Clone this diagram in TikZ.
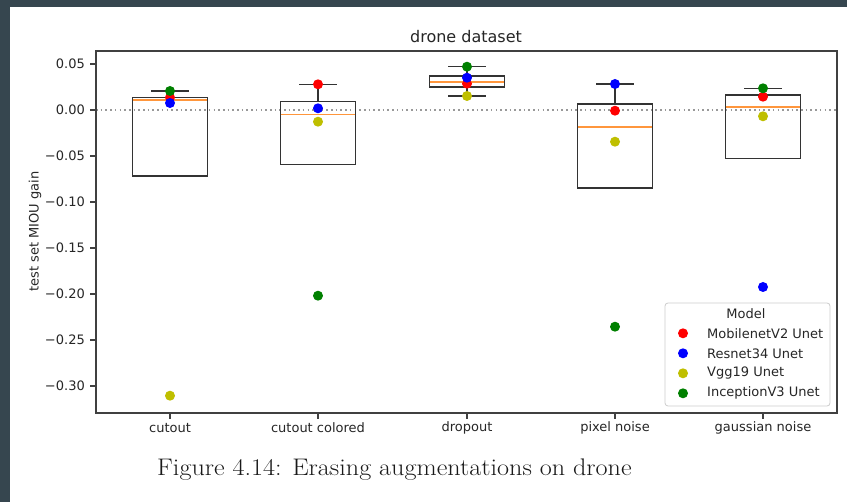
\documentclass[tikz,border=0pt]{standalone}
\usepackage{fontspec}
\newfontfamily\plotfont{DejaVu Sans}
\definecolor{frame}{RGB}{54,70,79}
\definecolor{medorange}{RGB}{255,150,60}
\definecolor{mred}{RGB}{255,0,0}
\definecolor{mblue}{RGB}{0,0,255}
\definecolor{myel}{RGB}{191,191,0}
\definecolor{mgreen}{RGB}{0,128,0}
\tikzset{
  x=1pt,y=-1pt,
  spine/.style={draw=black!75,line width=1.2pt},
  boxline/.style={draw=black!80,line width=1.5pt},
  medline/.style={draw=medorange,line width=1.4pt},
  tickl/.style={font=\plotfont\fontsize{13}{15}\selectfont,text=black!85,inner sep=0pt},
  dot/.style={circle,inner sep=0pt,minimum size=10pt,fill=#1},
  zeroline/.style={draw=black!40,line width=1.6pt,dash pattern=on 1.6pt off 3.1pt},
}
\begin{document}
\begin{tikzpicture}
\useasboundingbox (0,0) rectangle (847,502);
\fill[white] (0,0) rectangle (847,502);
\fill[frame] (0,0) rectangle (847,7.5);
\fill[frame] (0,0) rectangle (10,502);
% zero line
\coordinate (zl) at (96,110);
\coordinate (zr) at (837,110);
\draw[zeroline] (zl) -- (zr);
% boxes: cx, top, bottom, median, upper cap
\foreach \cx/\tp/\bt/\md/\uc [count=\i] in {170/97.7/176/100/91, 318/101.7/164.3/114.3/84.3, 467/76/87/82/66.7, 615/104/188/127/84, 763/95/158.3/107/88.3}{
  \draw[boxline] (\cx-37.3,\tp) rectangle (\cx+37.3,\bt);
  \draw[boxline] (\cx,\tp) -- (\cx,\uc);
  \draw[boxline] (\cx-18.7,\uc) -- (\cx+18.7,\uc);
  \draw[medline] (\cx-37.3,\md) -- (\cx+37.3,\md);
}
% dropout lower whisker
\draw[boxline] (467,87) -- (467,96);
\draw[boxline] (448.3,96) -- (485.7,96);
% dots: red, blue, yellow, green
\foreach \cx/\r/\b/\y/\g [count=\i] in {170/97.5/103/395.7/91, 318/84.3/108.3/121.7/295.7, 467/83.7/77.7/96/66.7, 615/110.7/84/141.7/326.7, 763/96.7/287/116.3/88.3}{
  \node[dot=mred] (r\i) at (\cx,\r) {};
  \node[dot=mblue] (b\i) at (\cx,\b) {};
  \node[dot=myel] (y\i) at (\cx,\y) {};
  \node[dot=mgreen] (g\i) at (\cx,\g) {};
}
% axes frame
\draw[spine] (96,51) rectangle (837,413);
% y ticks
\foreach \v/\yy in {0.05/64, 0.00/110, {\char"2212 0.05}/156, {\char"2212 0.10}/202, {\char"2212 0.15}/248, {\char"2212 0.20}/294, {\char"2212 0.25}/340, {\char"2212 0.30}/386}{
  \draw[black!75,line width=1.1pt] (90,\yy) -- (96,\yy);
  \node[tickl,anchor=east] at (85,\yy) {\v};
}
% x ticks
\foreach \cx/\lab [count=\i] in {170/cutout, 318/cutout colored, 467/dropout, 615/pixel noise, 763/gaussian noise}{
  \draw[black!75,line width=1.1pt] (\cx,413) -- (\cx,419);
  \node[tickl] (xl\i) at (\cx,428) {\lab};
}
% labels
\node[font=\plotfont\fontsize{16}{18}\selectfont,text=black!85] (title) at (466,37) {drone dataset};
\node[tickl,rotate=90] (ylab) at (35,231.5) {test set MIOU gain};
% legend
\draw[draw=black!20,fill=white,line width=0.8pt,rounded corners=3pt] (665,303) rectangle (830,406);
\node[tickl] (legtitle) at (746,313.5) {Model};
\foreach \c/\lab/\yy [count=\i] in {mred/MobilenetV2 Unet/333.3, mblue/Resnet34 Unet/353.3, myel/Vgg19 Unet/373.3, mgreen/InceptionV3 Unet/393.3}{
  \node[dot=\c] (ld\i) at (683,\yy) {};
  \node[tickl,anchor=west] (lt\i) at (707,\yy) {\lab};
}
% caption
\node[font=\fontsize{24}{28}\selectfont,anchor=west,inner sep=0pt,xscale=1.09,text=black!90] (cap) at (157,470) {Figure 4.14: Erasing augmentations on drone};
\end{tikzpicture}
\end{document}
